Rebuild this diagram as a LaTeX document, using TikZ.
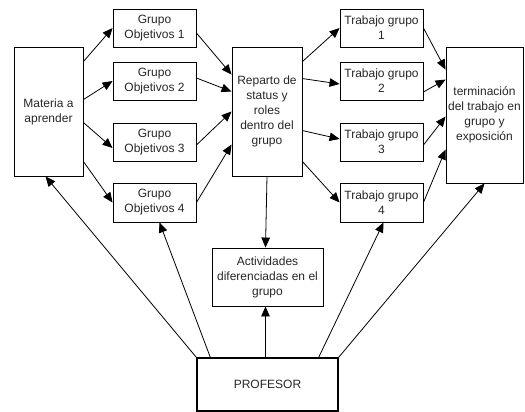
\documentclass[tikz,border=0pt]{standalone}
\usepackage{fontspec}
\setmainfont{Liberation Sans}
\usetikzlibrary{arrows.meta,calc}
\begin{document}
\begin{tikzpicture}[x=1pt,y=-1pt,
  box/.style={draw=black,line width=0.9pt,inner sep=0pt,align=center,
    font=\fontsize{12}{15}\selectfont,text=black!85},
  arr/.style={line width=0.8pt,-{Triangle[length=10pt,width=8.5pt]}}]
\useasboundingbox (0,0) rectangle (525,412);
% boxes
\node[box,minimum width=69pt,minimum height=129pt] (mat) at (48.5,111.5) {Materia a\\aprender};
\node[box,minimum width=83pt,minimum height=38pt] (go1) at (154.5,28) {Grupo\\Objetivos 1};
\node[box,minimum width=83pt,minimum height=38pt] (go2) at (154.5,81) {Grupo\\Objetivos 2};
\node[box,minimum width=83pt,minimum height=38pt] (go3) at (154.5,142) {Grupo\\Objetivos 3};
\node[box,minimum width=83pt,minimum height=39pt] (go4) at (154.5,202.5) {Grupo\\Objetivos 4};
\node[box,minimum width=70pt,minimum height=129pt] (rep) at (267,111.5) {Reparto de\\status y\\roles\\dentro del\\grupo};
\node[box,minimum width=83pt,minimum height=38pt] (tg1) at (381.5,28) {Trabajo grupo\\1};
\node[box,minimum width=83pt,minimum height=38pt] (tg2) at (381.5,81) {Trabajo grupo\\2};
\node[box,minimum width=83pt,minimum height=38pt] (tg3) at (381.5,142) {Trabajo grupo\\3};
\node[box,minimum width=83pt,minimum height=39pt] (tg4) at (381.5,202.5) {Trabajo grupo\\4};
\node[box,minimum width=77pt,minimum height=136pt] (term) at (484.5,115) {terminación\\del trabajo en\\grupo y\\exposición};
\node[box,minimum width=111pt,minimum height=58pt] (act) at (267.5,277) {Actividades\\diferenciadas en el\\grupo};
\node[box,line width=1.4pt,minimum width=141pt,minimum height=53pt] (prof) at (267.5,384.5) {PROFESOR};
% materia -> grupos objetivos
\draw[arr] ([yshift=-15pt]mat.north east) -- (go1.west);
\draw[arr] ([yshift=-53pt]mat.north east) -- (go2.west);
\draw[arr] ([yshift=-76pt]mat.north east) -- ([yshift=-6pt]go3.west);
\draw[arr] ([yshift=-115pt]mat.north east) -- (go4.west);
% grupos objetivos -> reparto
\draw[arr] ([yshift=-5pt]go1.east) -- ([yshift=-28pt]rep.north west);
\draw[arr] ([yshift=3pt]go2.east) -- ([yshift=-45pt]rep.north west);
\draw[arr] ([yshift=-3pt]go3.east) -- (rep.west);
\draw[arr] (go4.east) -- ([yshift=-98pt]rep.north west);
% reparto -> trabajo grupo
\draw[arr] ([yshift=-15pt]rep.north east) -- (tg1.west);
\draw[arr] ([yshift=-32pt]rep.north east) -- ([yshift=-3pt]tg2.west);
\draw[arr] ([yshift=-84pt]rep.north east) -- ([yshift=3pt]tg3.west);
\draw[arr] ([yshift=-115pt]rep.north east) -- (tg4.west);
% trabajo grupo -> terminacion
\draw[arr] (tg1.east) -- ([yshift=-23pt]term.north west);
\draw[arr] ([yshift=-11pt]tg2.east) -- ([yshift=-33pt]term.north west);
\draw[arr] ([yshift=-3pt]tg3.east) -- ([yshift=-70pt]term.north west);
\draw[arr] (tg4.east) -- ([yshift=-103pt]term.north west);
% reparto -> actividades
\draw[arr] (rep.south) -- ([xshift=-2pt]act.north);
% profesor
\draw[arr] ([xshift=-2pt]prof.north) -- ([xshift=-2pt]act.south);
\draw[arr] (prof.north west) -- ([xshift=-3pt]mat.south);
\draw[arr] ([xshift=14pt]prof.north west) -- ([xshift=5pt]go4.south);
\draw[arr] ([xshift=-20pt]prof.north east) -- ([xshift=2pt]tg4.south);
\draw[arr] (prof.north east) -- (term.south);
\end{tikzpicture}
\end{document}
